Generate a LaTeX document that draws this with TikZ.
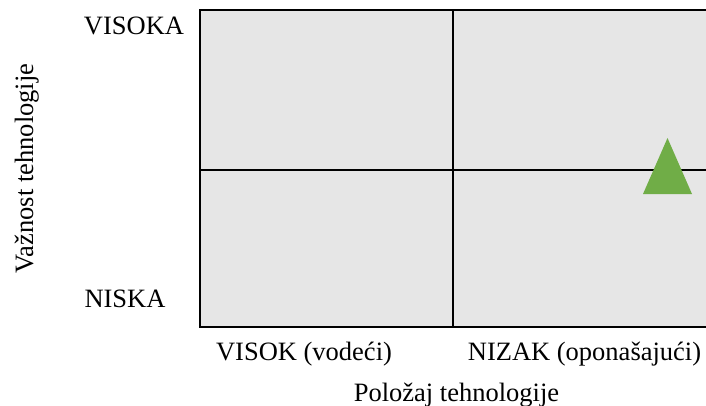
\documentclass[tikz,border=0pt]{standalone}
\usepackage{fontspec}
\setmainfont{Liberation Serif}
\definecolor{cellgray}{HTML}{E6E6E6}
\definecolor{markgreen}{HTML}{70AD47}

\begin{document}
\begin{tikzpicture}[x=1pt,y=-1pt]
	\tikzstyle{lbl}=[inner sep=0pt,anchor=base,font=\fontsize{26.5}{30}\selectfont]
	\useasboundingbox (0,0) rectangle (706,406);
	\clip (0,0) rectangle (706,406);
	\coordinate (nw) at (200,10);
	\coordinate (se) at (712,327);
	\fill[cellgray] (nw) rectangle (se);
	\draw[line width=2pt] (nw) rectangle (se);
	\draw[line width=2pt] (453,10) -- (453,327);
	\draw[line width=2pt] (200,170) -- (712,170);
	\fill[markgreen] (667.5,138) -- (692,194) -- (643,194) -- cycle;
	\node (high) [lbl] at (134,35) {VISOKA};
	\node (low) [lbl] at (125,307) {NISKA};
	\node (yaxis) [lbl, rotate=90] at (33,168.5) {Važnost tehnologije};
	\node (lead) [lbl] at (304,360) {VISOK (vodeći)};
	\node (follow) [lbl] at (584.5,360) {NIZAK (oponašajući)};
	\node (xaxis) [lbl] at (456.5,401) {Položaj tehnologije};
\end{tikzpicture}
\end{document}
